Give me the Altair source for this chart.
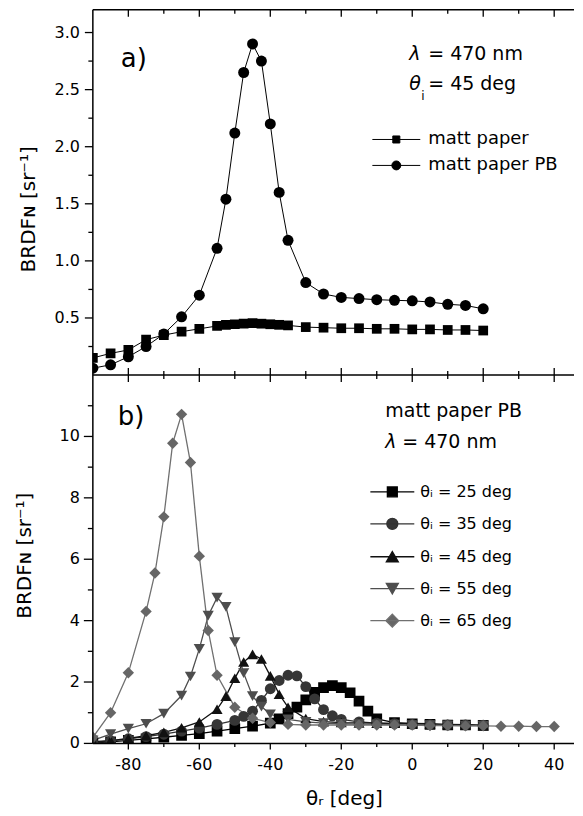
import altair as alt
import pandas as pd

# ---------------- data ----------------
A_SERIES = ["matt paper", "matt paper PB"]
A_THETA = [-90, -85, -80, -75, -70, -65, -60, -55, -52.5, -50, -47.5, -45, -42.5,
           -40, -37.5, -35, -30, -25, -20, -15, -10, -5, 0, 5, 10, 15, 20]
A_MATT = [0.15, 0.19, 0.22, 0.31, 0.35, 0.38, 0.405, 0.43, 0.44, 0.445, 0.45, 0.455, 0.45,
          0.445, 0.44, 0.435, 0.42, 0.415, 0.41, 0.41, 0.405, 0.405, 0.40, 0.40, 0.395, 0.395, 0.39]
A_PB = [0.06, 0.09, 0.16, 0.25, 0.36, 0.51, 0.70, 1.11, 1.54, 2.12, 2.65, 2.90, 2.75,
        2.20, 1.60, 1.18, 0.81, 0.71, 0.68, 0.67, 0.66, 0.655, 0.65, 0.64, 0.62, 0.61, 0.58]

B_SERIES = ["θᵢ = 25 deg", "θᵢ = 35 deg", "θᵢ = 45 deg", "θᵢ = 55 deg", "θᵢ = 65 deg"]
B25_THETA = [-90, -85, -80, -75, -70, -65, -60, -55, -50, -45, -40, -37.5, -35, -32.5, -30,
             -27.5, -25, -22.5, -20, -17.5, -15, -12.5, -10, -5, 0, 5, 10, 15, 20]
B25 = [0.02, 0.05, 0.1, 0.15, 0.2, 0.26, 0.32, 0.4, 0.48, 0.56, 0.66, 0.8, 0.97, 1.18, 1.42,
       1.66, 1.82, 1.88, 1.82, 1.65, 1.38, 1.05, 0.8, 0.68, 0.64, 0.62, 0.6, 0.6, 0.59]
B35_THETA = [-90, -85, -80, -75, -70, -65, -60, -55, -50, -47.5, -45, -42.5, -40, -37.5, -35,
             -32.5, -30, -27.5, -25, -22.5, -20, -15, -10, -5, 0, 5, 10, 15, 20]
B35 = [0.03, 0.08, 0.15, 0.22, 0.3, 0.4, 0.5, 0.62, 0.75, 0.88, 1.05, 1.4, 1.78, 2.05, 2.22,
       2.2, 1.85, 1.45, 1.1, 0.9, 0.78, 0.7, 0.66, 0.64, 0.62, 0.61, 0.6, 0.6, 0.59]
B45_THETA = A_THETA
B45 = A_PB
B55_THETA = [-90, -85, -80, -75, -70, -65, -62.5, -60, -57.5, -55, -52.5, -50, -47.5, -45,
             -42.5, -40, -35, -30, -25, -20, -15, -10, -5, 0, 5, 10, 15, 20]
B55 = [0.1, 0.3, 0.48, 0.64, 0.97, 1.56, 2.18, 3.08, 4.16, 4.75, 4.45, 3.3, 2.29, 1.54,
       1.2, 0.95, 0.78, 0.7, 0.66, 0.64, 0.63, 0.62, 0.61, 0.6, 0.6, 0.59, 0.58, 0.58]
B65_THETA = [-90, -85, -80, -75, -72.5, -70, -67.5, -65, -62.5, -60, -57.5, -55, -50, -45,
             -40, -35, -30, -25, -20, -15, -10, -5, 0, 5, 10, 15, 20, 25, 30, 35, 40]
B65 = [0.2, 1.0, 2.3, 4.3, 5.55, 7.38, 9.78, 10.72, 9.15, 6.1, 3.68, 2.22, 1.18, 0.82,
       0.68, 0.62, 0.6, 0.6, 0.6, 0.6, 0.6, 0.6, 0.6, 0.58, 0.58, 0.57, 0.57, 0.56, 0.56, 0.55, 0.55]

X_MAJOR = [-80, -60, -40, -20, 0, 20, 40]
X_MINOR = [-70, -50, -30, -10, 10, 30]
X_LABELS = ["-80", "-60", "-40", "-20", "0", "20", "40"]
YA_MAJOR = [0.5, 1.0, 1.5, 2.0, 2.5, 3.0]
YA_LABELS = ["0.5", "1.0", "1.5", "2.0", "2.5", "3.0"]
YA_MINOR = [0.25, 0.75, 1.25, 1.75, 2.25, 2.75]
YB_MAJOR = [0, 2, 4, 6, 8, 10]
YB_LABELS = ["0", "2", "4", "6", "8", "10"]
YB_MINOR = [1, 3, 5, 7, 9, 11]

# ---------------- styling ----------------
FONT = "DejaVu Sans"
W, HA, HB = 482, 366, 369
X_DOMAIN = [-90, 45.58]
YA_DOMAIN = [0, 3.2]
YB_DOMAIN = [0, 12]

B_LINE_COLORS = ["#000000", "#333333", "#111111", "#4f4f4f", "#707070"]
B_FILL_COLORS = ["#000000", "#363636", "#111111", "#4d4d4d", "#666666"]
B_SHAPES = ["square", "circle", "triangle-up", "triangle-down", "diamond"]
B_SIZES = [115, 130, 140, 150, 160]

# legend glyphs: a line with the marker on it (unit = 8 px, symbol size 256)
PA_PATHS = [
    "M-3,0H3M-0.44,-0.44H0.44V0.44H-0.44Z",
    "M-3,0H3M-0.56,0A0.56,0.56,0,1,0,0.56,0A0.56,0.56,0,1,0,-0.56,0Z",
]
PB_PATHS = [
    "M-2.75,0H2.75M-0.62,-0.62H0.62V0.62H-0.62Z",
    "M-2.75,0H2.75M-0.69,0A0.69,0.69,0,1,0,0.69,0A0.69,0.69,0,1,0,-0.69,0Z",
    "M-2.75,0H2.75M0,-0.65L0.75,0.65L-0.75,0.65Z",
    "M-2.75,0H2.75M0,0.65L0.75,-0.65L-0.75,-0.65Z",
    "M-2.75,0H2.75M0,-0.8L0.8,0L0,0.8L-0.8,0Z",
]


def sc(domain):
    return alt.Scale(domain=domain, nice=False, zero=False)


df_a = pd.DataFrame({
    "theta": A_THETA + A_THETA,
    "brdf": A_MATT + A_PB,
    "sample": [A_SERIES[0]] * len(A_THETA) + [A_SERIES[1]] * len(A_THETA),
})

rows = []
for name, xs, ys in zip(B_SERIES, [B25_THETA, B35_THETA, B45_THETA, B55_THETA, B65_THETA],
                        [B25, B35, B45, B55, B65]):
    for xv, yv in zip(xs, ys):
        rows.append({"theta": xv, "brdf": yv, "series": name})
df_b = pd.DataFrame(rows)

ONE = alt.Data(values=[{}])


def label(txt, x, y, size, italic=False, align="left", angle=0):
    return alt.Chart(ONE).mark_text(
        text=txt, fontSize=size, font=FONT, fontStyle="italic" if italic else "normal",
        align=align, baseline="middle", color="black", angle=angle
    ).encode(x=alt.value(x), y=alt.value(y))


def hline(y, x0, x1, w=1.5):
    return alt.Chart(ONE).mark_rule(color="black", strokeWidth=w).encode(
        x=alt.value(x0), x2=alt.value(x1), y=alt.value(y))


def vline(x, y0, y1, w=1.5):
    return alt.Chart(ONE).mark_rule(color="black", strokeWidth=w).encode(
        x=alt.value(x), y=alt.value(y0), y2=alt.value(y1))


def xticks(values, y0, y1):
    return alt.Chart(pd.DataFrame({"tick": values})).mark_rule(
        color="black", strokeWidth=1.3
    ).encode(x=alt.X("tick:Q", scale=sc(X_DOMAIN), axis=None), y=alt.value(y0), y2=alt.value(y1))


def yticks(values, domain, x0, x1):
    return alt.Chart(pd.DataFrame({"tick": values})).mark_rule(
        color="black", strokeWidth=1.3
    ).encode(y=alt.Y("tick:Q", scale=sc(domain), axis=None), x=alt.value(x0), x2=alt.value(x1))


def ylabels(values, texts, domain):
    return alt.Chart(pd.DataFrame({"v": values, "t": texts})).mark_text(
        align="right", baseline="middle", fontSize=16, font=FONT, color="black"
    ).encode(y=alt.Y("v:Q", scale=sc(domain), axis=None), x=alt.value(-13), text="t:N")


def xlabels(values, texts, y):
    return alt.Chart(pd.DataFrame({"v": values, "t": texts})).mark_text(
        align="center", baseline="middle", fontSize=16, font=FONT, color="black"
    ).encode(x=alt.X("v:Q", scale=sc(X_DOMAIN), axis=None), y=alt.value(y), text="t:N")


def legend_cfg(x, y, fs, rowpad, off, sw):
    return alt.Legend(orient="none", legendX=x, legendY=y, title=None, symbolSize=256,
                      labelFontSize=fs, labelFont=FONT, labelColor="black", rowPadding=rowpad,
                      labelOffset=off, symbolStrokeWidth=sw, padding=0, labelLimit=400,
                      symbolOffset=0)


# ---------------- panel a ----------------
lines_a = alt.Chart(df_a).mark_line(color="black", strokeWidth=1, clip=True).encode(
    x=alt.X("theta:Q", scale=sc(X_DOMAIN), axis=None),
    y=alt.Y("brdf:Q", scale=sc(YA_DOMAIN), axis=None),
    detail="sample:N",
)
points_a = alt.Chart(df_a).mark_point(filled=True, color="black", opacity=1, clip=True).encode(
    x=alt.X("theta:Q", scale=sc(X_DOMAIN), axis=None),
    y=alt.Y("brdf:Q", scale=sc(YA_DOMAIN), axis=None),
    shape=alt.Shape("sample:N", scale=alt.Scale(domain=A_SERIES, range=["square", "circle"]), legend=None),
    size=alt.Size("sample:O", scale=alt.Scale(domain=A_SERIES, range=[95, 121]), legend=None),
)
lg_a = legend_cfg(295, 121, 18, 8, 23, 1)
legend_a = alt.Chart(df_a).transform_filter("false").mark_point(filled=True, opacity=1).encode(
    x=alt.X("theta:Q", scale=sc(X_DOMAIN), axis=None),
    y=alt.Y("brdf:Q", scale=sc(YA_DOMAIN), axis=None),
    shape=alt.Shape("sample:N", scale=alt.Scale(domain=A_SERIES, range=PA_PATHS), legend=lg_a),
    fill=alt.Fill("sample:N", scale=alt.Scale(domain=A_SERIES, range=["black", "black"]), legend=lg_a),
    stroke=alt.Stroke("sample:N", scale=alt.Scale(domain=A_SERIES, range=["black", "black"]), legend=lg_a),
)

panel_a = alt.layer(
    lines_a, points_a, legend_a,
    hline(0, 0, W), hline(HA, 0, W), vline(0, 0, HA),
    xticks(X_MAJOR, 0, 7), xticks(X_MINOR, 0, 4),
    xticks(X_MAJOR, HA, HA - 7), xticks(X_MINOR, HA, HA - 4),
    yticks(YA_MAJOR, YA_DOMAIN, 0, -8), yticks(YA_MINOR, YA_DOMAIN, 0, -4.5),
    ylabels(YA_MAJOR, YA_LABELS, YA_DOMAIN),
    label("BRDFɴ [sr⁻¹]", -64, 200, 20, align="center", angle=270),
    label("a)", 28, 49, 26),
    label("λ", 317, 44, 19, italic=True), label("= 470 nm", 336, 44, 19),
    label("θ", 317, 74, 19, italic=True), label("i", 329, 86, 12), label("= 45 deg", 336, 74, 19),
).resolve_scale(shape="independent", fill="independent", stroke="independent",
                size="independent").properties(width=W, height=HA)

# ---------------- panel b ----------------
lines_b = alt.Chart(df_b).mark_line(strokeWidth=1.3, clip=True).encode(
    x=alt.X("theta:Q", scale=sc(X_DOMAIN), axis=None),
    y=alt.Y("brdf:Q", scale=sc(YB_DOMAIN), axis=None),
    color=alt.Color("series:N", scale=alt.Scale(domain=B_SERIES, range=B_LINE_COLORS), legend=None),
)
points_b = alt.Chart(df_b).mark_point(filled=True, opacity=1, clip=True).encode(
    x=alt.X("theta:Q", scale=sc(X_DOMAIN), axis=None),
    y=alt.Y("brdf:Q", scale=sc(YB_DOMAIN), axis=None),
    fill=alt.Fill("series:N", scale=alt.Scale(domain=B_SERIES, range=B_FILL_COLORS), legend=None),
    shape=alt.Shape("series:N", scale=alt.Scale(domain=B_SERIES, range=B_SHAPES), legend=None),
    size=alt.Size("series:O", scale=alt.Scale(domain=B_SERIES, range=B_SIZES), legend=None),
)
lg_b = legend_cfg(291, 108, 16, 15, 19, 1.3)
legend_b = alt.Chart(df_b).transform_filter("false").mark_point(filled=True, opacity=1).encode(
    x=alt.X("theta:Q", scale=sc(X_DOMAIN), axis=None),
    y=alt.Y("brdf:Q", scale=sc(YB_DOMAIN), axis=None),
    shape=alt.Shape("series:N", scale=alt.Scale(domain=B_SERIES, range=PB_PATHS), legend=lg_b),
    fill=alt.Fill("series:N", scale=alt.Scale(domain=B_SERIES, range=B_FILL_COLORS), legend=lg_b),
    stroke=alt.Stroke("series:N", scale=alt.Scale(domain=B_SERIES, range=B_LINE_COLORS), legend=lg_b),
)

panel_b = alt.layer(
    lines_b, points_b, legend_b,
    hline(HB, 0, W), vline(0, 0, HB),
    xticks(X_MAJOR, 0, 7), xticks(X_MINOR, 0, 4),
    xticks(X_MAJOR, HB, HB + 6), xticks(X_MINOR, HB, HB + 3.5),
    yticks(YB_MAJOR, YB_DOMAIN, 0, -9), yticks(YB_MINOR, YB_DOMAIN, 0, -5),
    ylabels(YB_MAJOR, YB_LABELS, YB_DOMAIN),
    xlabels(X_MAJOR, X_LABELS, HB + 22),
    label("BRDFɴ [sr⁻¹]", -68, 181, 20, align="center", angle=270),
    label("θᵣ [deg]", 252, HB + 56, 20, align="center"),
    label("b)", 25, 42, 26),
    label("matt paper PB", 293, 36, 19),
    label("λ", 293, 67, 19, italic=True), label("= 470 nm", 310, 67, 19),
).resolve_scale(shape="independent", fill="independent", stroke="independent",
                size="independent", color="independent").properties(width=W, height=HB)

chart = alt.vconcat(panel_a, panel_b, spacing=0, bounds="flush").resolve_scale(
    x="independent", y="independent", shape="independent", fill="independent",
    stroke="independent", size="independent", color="independent"
).properties(
    padding={"left": 7, "top": 0, "right": 0, "bottom": 0}
).configure_view(strokeWidth=0, stroke="transparent")

chart.save("out.html", embed_options={"renderer": "svg", "actions": False})
